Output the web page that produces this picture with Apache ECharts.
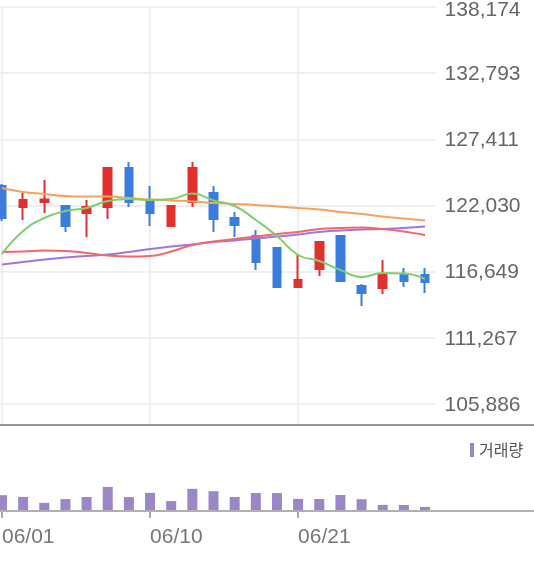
<!DOCTYPE html>
<html>
<head>
<meta charset="utf-8">
<script src="https://cdn.jsdelivr.net/npm/echarts@6/dist/echarts.min.js"></script>
<style>html,body{margin:0;padding:0;background:#fff;}#c{width:534px;height:572px;}</style>
</head>
<body>
<div id="c"></div>
<script>
const dates = ['06/01','06/02','06/03','06/04','06/07','06/08','06/09','06/10','06/11','06/14','06/15','06/16','06/17','06/18','06/21','06/22','06/23','06/24','06/25','06/28','06/29'];
const openP  = [123617,121909,122316,121990,121421,121909,125081,122478,120364,122316,123048,121014,119551,118575,115403,116867,119551,115484,115322,116460,116379];
const closeP = [121014,122478,122519,120364,121909,125081,122316,121421,121990,125081,120933,120445,117436,115403,115972,119063,115891,114915,116460,115891,115810];
const lowP   = [120770,120852,121421,119876,119469,120933,121909,120364,120364,121909,119876,119469,116785,115403,115403,116298,115891,113858,114834,115403,114915];
const highP  = [123780,123048,124105,121990,122478,125081,125569,123617,121990,125569,123617,121502,120039,118575,118087,119063,119551,115647,117599,116948,116948];
const ma5   = [118087,119957,121014,121584,121828,122397,122560,122478,122560,123007,122438,121990,120852,119551,118005,117517,116785,116216,116541,116501,116054];
const ma20  = [118249,118290,118371,118331,118168,117965,117883,117924,118290,118819,119103,119307,119510,119713,119876,120120,120201,120242,120120,119916,119632];
const ma60  = [123454,123129,122966,122804,122763,122763,122641,122519,122438,122356,122234,122153,122072,121950,121828,121706,121502,121340,121136,120974,120811];
const ma120 = [117233,117436,117639,117802,117924,118046,118249,118493,118697,118859,119063,119185,119347,119510,119673,119876,119998,120079,120120,120201,120323];
const volume = [158000,141000,82000,119000,140000,241000,139000,181000,99000,222000,198000,140000,180000,179000,121000,120000,160000,118000,61000,60000,41000];
const yTicks = [105886,111267.33,116648.67,122030,127411.33,132792.67,138174];
const yMin = 104180, yMax = 138174;

const candles = dates.map((d,i)=>[openP[i],closeP[i],lowP[i],highP[i]]);
const fmtNum = v => Math.round(v).toString().replace(/\B(?=(\d{3})+(?!\d))/g, ',');
const fmt = v => (Math.round(v) >= Math.round(yMax) ? '{t|' : '{n|') + fmtNum(v) + '}';

const chart = echarts.init(document.getElementById('c'), null, {renderer:'canvas'});
const gridColor = '#efefef';
const font = "'Liberation Sans', Arial, sans-serif";
const labelStyle = {fontSize: 21, color: '#666', fontFamily: font};
chart.setOption({
  animation: false,
  backgroundColor: '#fff',
  legend: {
    data: ['거래량'], left: 470, top: 442, padding: 0,
    icon: 'rect', itemWidth: 4, itemHeight: 14,
    textStyle: {fontSize: 16, color: '#555', fontFamily: "'Noto Sans CJK KR', sans-serif"}
  },
  grid: [
    {left: -8.6, width: 444.2, top: 7, height: 418, outerBoundsMode: 'none', containLabel: false},
    {left: -8.6, width: 444.2, top: 441, height: 70, outerBoundsMode: 'none', containLabel: false}
  ],
  xAxis: [
    {type: 'category', gridIndex: 0, data: dates, boundaryGap: true,
     axisLine: {show: false}, axisTick: {show: false}, axisLabel: {show: false},
     splitLine: {show: true, interval: 6, alignWithLabel: true, lineStyle: {color: gridColor, width: 2}}},
    {type: 'category', gridIndex: 1, data: dates, boundaryGap: true,
     axisLine: {show: true, lineStyle: {color: '#b0b0b0', width: 2}},
     axisTick: {show: true, interval: 6, alignWithLabel: true, length: 7, lineStyle: {color: '#aaa', width: 2}},
     axisLabel: {interval: 6, align: 'left', margin: 16, fontSize: 21, color: '#777', fontFamily: font},
     splitLine: {show: false}}
  ],
  yAxis: [
    {type: 'value', gridIndex: 0, position: 'right', min: yMin, max: yMax, scale: true,
     axisLine: {show: false},
     axisTick: {show: false, customValues: yTicks},
     axisLabel: {customValues: yTicks, formatter: fmt, margin: 9, align: 'left',
       fontSize: 21, color: '#666', fontFamily: font,
       rich: {
         n: Object.assign({padding: [2, 0, 0, 0]}, labelStyle),
         t: Object.assign({padding: [7, 0, 0, 0]}, labelStyle)
       }},
     splitLine: {show: true, lineStyle: {color: gridColor, width: 2}}},
    {type: 'value', gridIndex: 1, min: 0, max: 700000, show: false, splitLine: {show: false}}
  ],
  graphic: [
    {type: 'line', shape: {x1: 0, y1: 425, x2: 534, y2: 425}, style: {stroke: '#959595', lineWidth: 2}, z: 10},
    {type: 'line', shape: {x1: 0, y1: 511, x2: 534, y2: 511}, style: {stroke: '#b0b0b0', lineWidth: 2}, z: 10}
  ],
  series: [
    {name: 'MA60', type: 'line', data: ma60, xAxisIndex: 0, yAxisIndex: 0, smooth: true, showSymbol: false, lineStyle: {color: '#f6a25c', width: 2}},
    {name: 'MA120', type: 'line', data: ma120, xAxisIndex: 0, yAxisIndex: 0, smooth: true, showSymbol: false, lineStyle: {color: '#a274e2', width: 2}},
    {name: 'MA20', type: 'line', data: ma20, xAxisIndex: 0, yAxisIndex: 0, smooth: true, showSymbol: false, lineStyle: {color: '#f06868', width: 2}},
    {name: 'MA5', type: 'line', data: ma5, xAxisIndex: 0, yAxisIndex: 0, smooth: true, showSymbol: false, lineStyle: {color: '#80cf6c', width: 2}},
    {name: '시세', type: 'candlestick', data: candles, xAxisIndex: 0, yAxisIndex: 0, barWidth: 8,
     itemStyle: {color: '#e0312f', color0: '#3b7ddd', borderColor: '#e0312f', borderColor0: '#3b7ddd', borderWidth: 2}},
    {name: '거래량', type: 'bar', data: volume, xAxisIndex: 1, yAxisIndex: 1, barWidth: 10, itemStyle: {color: '#9b86c6'}}
  ]
});
</script>
</body>
</html>
